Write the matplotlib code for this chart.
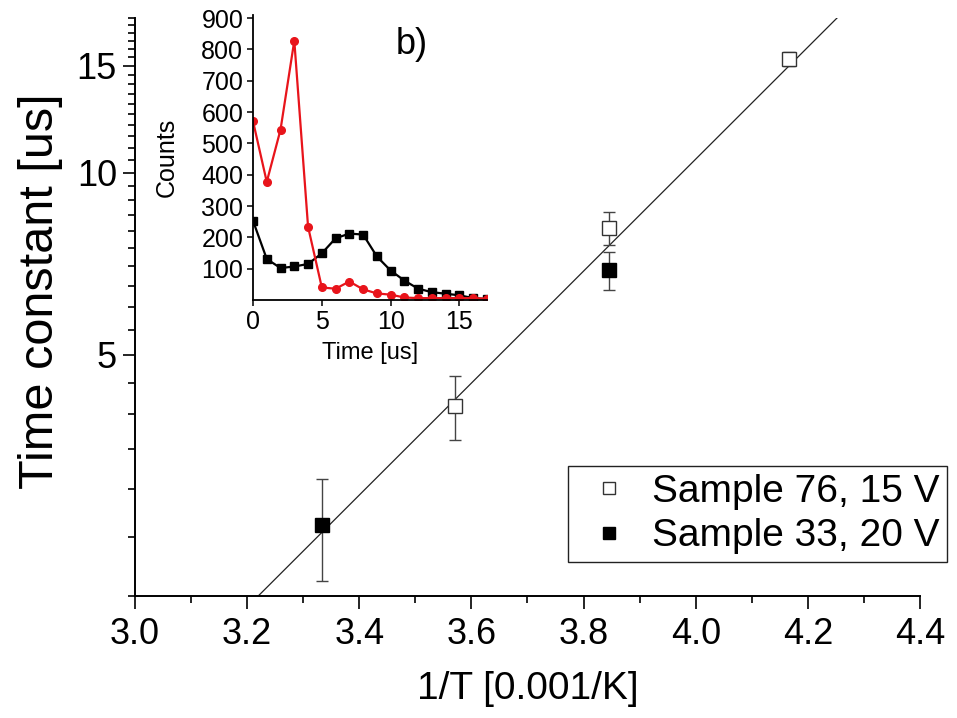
import numpy as np
import matplotlib
matplotlib.use('Agg')
import matplotlib.pyplot as plt
from matplotlib import font_manager
from matplotlib.lines import Line2D
from matplotlib.ticker import FixedLocator, NullFormatter

# main panel: time constant vs 1/T
inv_t_76 = [3.571, 3.846, 4.167]
tau_76 = [4.12, 8.1, 15.4]
err_76 = [0.5, 0.5, 0.4]

inv_t_33 = [3.333, 3.846]
tau_33 = [2.62, 6.9]
err_33 = [0.5, 0.5]

label_76 = 'Sample 76, 15 V'
label_33 = 'Sample 33, 20 V'

# inset: counts vs time
time_us = list(range(18))
counts_black = [253, 131, 102, 107, 115, 149, 197, 212, 209, 139, 94, 62, 36, 25, 20, 15, 6, 3]
counts_red = [571, 377, 544, 828, 234, 40, 36, 59, 34, 21, 17, 8, 6, 6, 6, 6, 6, 4]

# fonts
names = {f.name for f in font_manager.fontManager.ttflist}
plt.rcParams['font.family'] = ['Liberation Sans', 'DejaVu Sans']
if 'Liberation Sans Narrow' in names:
    narrow = ['Liberation Sans Narrow', 'Liberation Sans']
    nsize = 30
else:
    narrow = ['Liberation Sans', 'DejaVu Sans']
    nsize = 26

fig = plt.figure(figsize=(9.57, 7.18), dpi=100)
ax = fig.add_axes([135/957, 1 - 596/718, 785/957, 578/718])

# fit line (least squares in log space)
xs_all = np.array(inv_t_76 + inv_t_33)
ys_all = np.log10(np.array(tau_76 + tau_33))
coef = np.polyfit(xs_all, ys_all, 1)
xx = np.linspace(3.0, 4.4, 100)
ax.plot(xx, 10 ** np.polyval(coef, xx), color='#222222', lw=0.9, zorder=1)

ax.errorbar(inv_t_76, tau_76, yerr=err_76, fmt='s', ms=9.5, mfc='white', mec='#333333',
            mew=1.0, ecolor='#444444', elinewidth=1.0, capsize=4.5, capthick=1.0, zorder=3)
ax.errorbar(inv_t_33, tau_33, yerr=err_33, fmt='s', ms=9.5, mfc='black', mec='black',
            mew=1.0, ecolor='#444444', elinewidth=1.0, capsize=4.5, capthick=1.0, zorder=3)

ax.set_yscale('log')
ax.set_xlim(3.0, 4.4)
ax.set_ylim(2, 18)
ax.set_xticks(np.arange(3.0, 4.41, 0.2))
ax.set_xticklabels([f'{v:.1f}' for v in np.arange(3.0, 4.41, 0.2)])
ax.xaxis.set_minor_locator(FixedLocator(np.arange(3.1, 4.4, 0.2)))
ax.yaxis.set_major_locator(FixedLocator([5, 10, 15]))
ax.set_yticklabels(['5', '10', '15'])
ax.yaxis.set_minor_locator(FixedLocator(np.arange(2, 18.01, 0.5)))
ax.yaxis.set_minor_formatter(NullFormatter())

for s in ['top', 'right']:
    ax.spines[s].set_visible(False)
for s in ['left', 'bottom']:
    ax.spines[s].set_linewidth(1.4)

ax.tick_params(which='major', direction='out', length=9, width=1.2, color='black')
ax.tick_params(which='minor', direction='out', length=5, width=1.2, color='black')
ax.tick_params(axis='y', labelsize=26, pad=4)
ax.tick_params(axis='x', labelsize=nsize, pad=6)
for t in ax.get_xticklabels():
    t.set_family(narrow)

ax.set_xlabel('1/T [0.001/K]', fontsize=nsize + 2, family=narrow, labelpad=14)
ax.set_ylabel('Time constant [us]', fontsize=35, labelpad=10)
ax.yaxis.label.set_y(0.527)

handles = [
    Line2D([], [], ls='none', marker='s', ms=8, mfc='white', mec='#333333', mew=1.0),
    Line2D([], [], ls='none', marker='s', ms=8, mfc='black', mec='black', mew=1.0),
]
leg = fig.legend(handles, [label_76, label_33], loc='upper left',
                 bbox_to_anchor=(568/957, 1 - 466/718), fontsize=28,
                 frameon=True, fancybox=False, edgecolor='#222222', framealpha=1,
                 borderpad=0.2, handlelength=1.7, handletextpad=0.25, labelspacing=0.22,
                 borderaxespad=0)
leg.get_frame().set_linewidth(1.0)

# inset
ins = fig.add_axes([253/957, 1 - 300/718, 234/957, 285/718])
ins.patch.set_alpha(0)
ins.plot(time_us, counts_black, color='black', lw=1.6, marker='s', ms=5.5)
ins.plot(time_us, counts_red, color='#e8141b', lw=1.6, marker='o', ms=5.5)
ins.set_xlim(0, 17)
ins.set_ylim(0, 910)
ins.set_xticks([0, 5, 10, 15])
ins.set_yticks(range(100, 901, 100))
for s in ['top', 'right']:
    ins.spines[s].set_visible(False)
for s in ['left', 'bottom']:
    ins.spines[s].set_linewidth(1.3)
ins.tick_params(direction='out', length=4, width=1.1, labelsize=18, pad=3)
ins.set_xlabel('Time [us]', fontsize=17, labelpad=6)
ins.set_ylabel('Counts', fontsize=18, labelpad=16)

fig.text(412/957, 1 - 45/718, 'b)', fontsize=26, ha='center', va='center')

fig.savefig('out.png', dpi=100)
